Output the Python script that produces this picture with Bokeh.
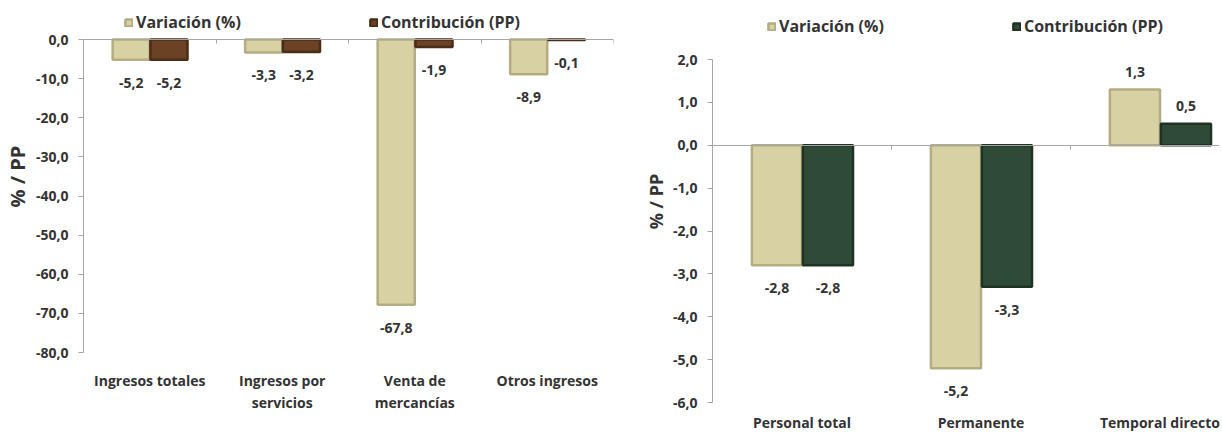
from bokeh.plotting import figure
from bokeh.models import (ColumnDataSource, Range1d, FixedTicker, LinearAxis,
                          Legend, LegendItem, LabelSet)
from bokeh.core.properties import value
from bokeh.layouts import row
from bokeh.embed import file_html
from bokeh.resources import INLINE

# ---------------- data ----------------
series_names = ["Variación (%)", "Contribución (PP)"]
y_axis_title = "% / PP"

left_categories = ["Ingresos totales", "Ingresos por\nservicios", "Venta de\nmercancías", "Otros ingresos"]
left_variacion = [-5.2, -3.3, -67.8, -8.9]
left_contribucion = [-5.2, -3.2, -1.9, -0.1]
left_yticks = [0, -10, -20, -30, -40, -50, -60, -70, -80]

right_categories = ["Personal total", "Permanente", "Temporal directo"]
right_variacion = [-2.8, -5.2, 1.3]
right_contribucion = [-2.8, -3.3, 0.5]
right_yticks = [2, 1, 0, -1, -2, -3, -4, -5, -6]

FONT = "Open Sans"
TXT = "#333333"
AXIS = "#A6A6A6"
KHAKI = ("#D7D1A3", "#B4AD83")
BROWN = ("#6B4226", "#4A2C17")
GREEN = ("#2F4A37", "#1F3325")


def fmt(v):
    return f"{v:.1f}".replace(".", ",")


def make_chart(categories, var, con, yticks, x_end, top_px, axis_px, con_colors,
               frame_w, mb_left, mb_right, mb_bottom,
               legend_x, legend_y, title_font, cat_font, cat_standoff):
    n = len(categories)
    y_lo, y_hi = min(yticks), max(yticks)
    px_per_unit = axis_px / (y_hi - y_lo)
    p = figure(frame_width=frame_w, frame_height=axis_px + top_px,
               x_range=Range1d(-0.5, x_end),
               y_range=Range1d(y_lo, y_hi + top_px / px_per_unit),
               output_backend="svg", toolbar_location=None,
               min_border_left=mb_left, min_border_right=mb_right,
               min_border_top=0, min_border_bottom=mb_bottom,
               background_fill_color=None, border_fill_color=None,
               outline_line_color=None)
    p.grid.visible = False

    idx = list(range(n))
    off_v, off_c, w = -0.14, 0.145, 0.28
    src_v = ColumnDataSource(dict(x=[i + off_v for i in idx], top=var,
                                  txt=[fmt(v) for v in var],
                                  yoff=[-23 if v < 0 else 18 for v in var]))
    src_c = ColumnDataSource(dict(x=[i + off_c for i in idx], top=con,
                                  txt=[fmt(v) for v in con],
                                  yoff=[-23 if v < 0 else 18 for v in con]))
    rv = p.vbar(x="x", top="top", bottom=0, width=w, source=src_v,
                fill_color=KHAKI[0], line_color=KHAKI[1], line_width=2.5)
    rc = p.vbar(x="x", top="top", bottom=0, width=w, source=src_c,
                fill_color=con_colors[0], line_color=con_colors[1], line_width=2.5)

    for src in (src_v, src_c):
        p.add_layout(LabelSet(x="x", y="top", text="txt", y_offset="yoff", source=src,
                              text_align="center", text_baseline="middle",
                              text_font=value(FONT), text_font_style="bold",
                              text_font_size="14px", text_color=TXT))

    # y axis
    ya = p.yaxis[0]
    ya.ticker = FixedTicker(ticks=yticks)
    ya.bounds = (y_lo, y_hi)
    ya.major_label_overrides = {t: fmt(t) for t in yticks}
    ya.axis_line_color = AXIS
    ya.major_tick_line_color = AXIS
    ya.major_tick_out = 5
    ya.major_tick_in = 0
    ya.minor_tick_line_color = None
    ya.major_label_text_font = FONT
    ya.major_label_text_font_style = "bold"
    ya.major_label_text_font_size = "14px"
    ya.major_label_text_color = TXT
    ya.major_label_standoff = 10
    ya.axis_label = y_axis_title
    ya.axis_label_text_font = FONT
    ya.axis_label_text_font_style = "bold"
    ya.axis_label_text_font_size = title_font
    ya.axis_label_text_color = TXT
    ya.axis_label_standoff = 2

    # category labels at the bottom
    xa = p.xaxis[0]
    xa.ticker = FixedTicker(ticks=idx)
    xa.major_label_overrides = {i: c for i, c in enumerate(categories)}
    xa.axis_line_color = None
    xa.major_tick_line_color = None
    xa.major_tick_out = 0
    xa.major_tick_in = 0
    xa.minor_tick_line_color = None
    xa.major_label_text_font = FONT
    xa.major_label_text_font_style = "bold"
    xa.major_label_text_font_size = cat_font
    xa.major_label_text_color = TXT
    xa.major_label_standoff = cat_standoff

    # horizontal axis line at zero with category boundary ticks
    bounds = [i + 0.5 for i in idx]
    zero_axis = LinearAxis(fixed_location=0,
                           ticker=FixedTicker(ticks=bounds),
                           major_label_overrides={b: "" for b in bounds},
                           axis_line_color=AXIS, major_tick_line_color=AXIS,
                           major_tick_out=4, major_tick_in=0,
                           minor_tick_line_color=None)
    p.add_layout(zero_axis, "below")

    # legend (inside the frame, above the plotted range)
    lg = Legend(items=[LegendItem(label=name, renderers=[r])
                       for r, name in zip((rv, rc), series_names)],
                location=(legend_x, legend_y), orientation="horizontal",
                padding=0, margin=0, spacing=0,
                border_line_color=None, background_fill_alpha=0,
                glyph_width=9, glyph_height=9, label_standoff=3,
                label_width=233, label_height=20,
                label_text_font=FONT, label_text_font_style="bold",
                label_text_font_size="16px", label_text_color=TXT)
    p.add_layout(lg, "center")
    return p


left = make_chart(left_categories, left_variacion, left_contribucion, left_yticks,
                  3.5, 39, 313, BROWN, 530, 81, 8, 62,
                  41, 319, "20px", "14px", 18)

right = make_chart(right_categories, right_variacion, right_contribucion, right_yticks,
                   -0.5 + 507 / 179, 59, 343, GREEN, 507, 91, 3, 28,
                   55, 365, "18px", "14px", 10)

layout = row(left, right)
open("out.html", "w").write(file_html(layout, INLINE))
